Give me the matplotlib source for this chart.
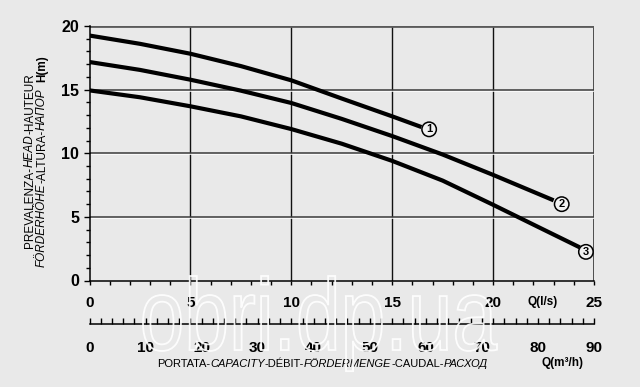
import matplotlib
matplotlib.use("Agg")
import matplotlib.pyplot as plt
from matplotlib.transforms import IdentityTransform, Affine2D
from matplotlib.ticker import MultipleLocator
from matplotlib.textpath import TextPath
from matplotlib.patches import PathPatch
from matplotlib.font_manager import FontProperties
import matplotlib.patheffects as pe

# ---------------- data ----------------
q1 = [0, 2.5, 5, 7.5, 10, 12.5, 15, 16.45]
h1 = [19.25, 18.6, 17.82, 16.85, 15.73, 14.3, 12.9, 12.06]

q2 = [0, 2.5, 5, 7.5, 10, 12.5, 15, 17.5, 20, 23.0]
h2 = [17.17, 16.55, 15.78, 14.92, 13.95, 12.7, 11.35, 9.9, 8.3, 6.3]

q3 = [0, 2.5, 5, 7.5, 10, 12.5, 15, 17.5, 20, 22.5, 24.3]
h3 = [14.94, 14.4, 13.69, 12.9, 11.9, 10.75, 9.4, 7.85, 5.95, 4.0, 2.6]

curve_names = ["1", "2", "3"]
label_q = [16.83, 23.4, 24.6]
label_h = [11.88, 6.0, 2.25]

y_ticks = [0, 5, 10, 15, 20]
x_ticks_ls = [0, 5, 10, 15, 20, 25]
x_ticks_m3h = [0, 10, 20, 30, 40, 50, 60, 70, 80, 90]

BG = "#e9e9e9"
FONT = ["Liberation Sans", "DejaVu Sans"]
plt.rcParams["font.family"] = FONT

W, H = 640, 387
fig = plt.figure(figsize=(W / 100, H / 100), dpi=100, facecolor=BG)

# main axes (pixel geometry)
x0, x1 = 89.5, 594
y_top, y_bot = 26, 280.5
ax = fig.add_axes([x0 / W, (H - y_bot) / H, (x1 - x0) / W, (y_bot - y_top) / H])
ax.set_facecolor(BG)
ax.set_xlim(0, 25)
ax.set_ylim(0, 20)

for s in ["top", "right"]:
    ax.spines[s].set_visible(False)
ax.spines["left"].set_linewidth(1.1)
ax.spines["bottom"].set_linewidth(1.1)

# grid
for v in [5, 10, 15, 20]:
    ax.axvline(v, color="#111111", lw=1.0, zorder=1)
ax.axvline(25, color="#333333", lw=1.2, zorder=1)
for hv in [5, 10, 15]:
    ax.axhline(hv, color="#3a3a3a", lw=1.1, zorder=1,
               path_effects=[pe.SimpleLineShadow(offset=(0, -0.8), shadow_color="white", alpha=1.0, rho=1.0),
                             pe.Normal()])
ax.axhline(20, color="#5a5a5a", lw=2.0, zorder=1)

# ticks
ax.set_yticks(y_ticks)
ax.yaxis.set_minor_locator(MultipleLocator(1))
ax.set_xticks(x_ticks_ls)
ax.xaxis.set_minor_locator(MultipleLocator(1))
ax.tick_params(axis="y", which="major", direction="out", length=4.5, width=1, pad=3,
               labelsize=11.5)
ax.tick_params(axis="y", which="minor", direction="out", length=3, width=1)
ax.tick_params(axis="x", which="both", direction="out", length=3, width=1, pad=8,
               labelsize=11)
for lab in ax.get_yticklabels() + ax.get_xticklabels():
    lab.set_fontweight("bold")

# curves
for q, h in [(q1, h1), (q2, h2), (q3, h3)]:
    ax.plot(q, h, color="black", lw=3.0, solid_capstyle="butt", zorder=3)
for name, lq, lh in zip(curve_names, label_q, label_h):
    ax.text(lq, lh, name, fontsize=8, fontweight="bold", ha="center", va="center", zorder=4,
            bbox=dict(boxstyle="circle,pad=0.2", fc="#f2f2f2", ec="black", lw=1.1))

# second x axis (m3/h)
y2 = 324
ax2 = fig.add_axes([x0 / W, (H - y2) / H, (x1 - x0) / W, 0.01])
ax2.patch.set_visible(False)
for s in ["top", "left", "right"]:
    ax2.spines[s].set_visible(False)
ax2.spines["bottom"].set_linewidth(1.1)
ax2.set_xlim(0, 90)
ax2.set_yticks([])
ax2.set_xticks(x_ticks_m3h)
ax2.xaxis.set_minor_locator(MultipleLocator(2))
ax2.tick_params(axis="x", which="both", direction="in", length=4, width=1, pad=12, labelsize=11)
for lab in ax2.get_xticklabels():
    lab.set_fontweight("bold")

# mixed-style texts
renderer = fig.canvas.get_renderer()


def mixed_text(x, y, parts, rotation=0, size=8.5):
    for s, style, weight, gap in parts:
        if rotation == 90:
            y += gap
        else:
            x += gap
        t = fig.text(x, y, s, transform=IdentityTransform(), rotation=rotation,
                     rotation_mode="anchor", ha="left", va="baseline",
                     fontsize=size, fontstyle=style, fontweight=weight, family=FONT)
        bb = t.get_window_extent(renderer)
        if rotation == 90:
            y = bb.y1
        else:
            x = bb.x1


mixed_text(33, H - 248, [("PREVALENZA-", "normal", "normal", 0),
                         ("HEAD", "italic", "normal", 0),
                         ("-HAUTEUR", "normal", "normal", 0)], rotation=90)
mixed_text(45, H - 267, [("FÖRDERHÖHE", "italic", "normal", 0),
                         ("-ALTURA-", "normal", "normal", 0),
                         ("НАПОР", "italic", "normal", 0),
                         ("H(m)", "normal", "bold", 6)], rotation=90)

mixed_text(157, H - 367, [("PORTATA-", "normal", "normal", 0),
                          ("CAPACITY", "italic", "normal", 0),
                          ("-DÉBIT-", "normal", "normal", 0),
                          ("FÖRDERMENGE", "italic", "normal", 0),
                          ("-CAUDAL-", "normal", "normal", 0),
                          ("РАСХОД", "italic", "normal", 0)], size=8.0)
fig.text(541, H - 366, "Q(m³/h)", transform=IdentityTransform(), ha="left", va="baseline",
         fontsize=8.5, fontweight="bold")
fig.text(528, H - 305, "Q(l/s)", transform=IdentityTransform(), ha="left", va="baseline",
         fontsize=8.5, fontweight="bold")

# watermark (outlined text)
tp = TextPath((0, 0), "obri.dp.ua", size=1, prop=FontProperties(family="Liberation Sans"))
ext = tp.get_extents()
sx = 354 / ext.width
sy = 53 / 0.519
tr = Affine2D().translate(-ext.x0, 0).scale(sx, sy).translate(143, H - 350)
wm = PathPatch(tp, transform=tr + IdentityTransform(), fc="none", ec="white", lw=1.3,
               alpha=0.9, zorder=10)
fig.add_artist(wm)

fig.savefig("out.png", dpi=100, facecolor=BG)
